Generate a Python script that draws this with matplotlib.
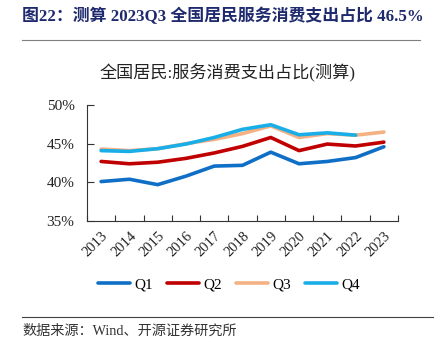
import matplotlib
matplotlib.use("Agg")
import matplotlib.pyplot as plt
from matplotlib.lines import Line2D

years = ["2013","2014","2015","2016","2017","2018","2019","2020","2021","2022","2023"]
q1 = [40.1, 40.4, 39.7, 40.8, 42.1, 42.2, 43.9, 42.4, 42.7, 43.2, 44.6]
q2 = [42.7, 42.4, 42.6, 43.1, 43.8, 44.65, 45.8, 44.1, 44.95, 44.7, 45.2]
q3 = [44.3, 44.1, 44.35, 45.0, 45.55, 46.3, 47.3, 45.8, 46.3, 46.1, 46.5]
q4 = [44.1, 44.0, 44.35, 44.95, 45.8, 46.85, 47.45, 46.15, 46.4, 46.1]
series = [("Q1", q1, "#0F6FC6"), ("Q2", q2, "#C00000"), ("Q3", q3, "#F4B183"), ("Q4", q4, "#1AAEE8")]

W, H = 444, 354
fig = plt.figure(figsize=(W/100, H/100), dpi=100)
serif = ["Liberation Serif", "Noto Sans CJK SC"]

def fx(px): return px / W
def fy(py): return 1 - py / H

# header
fig.text(fx(22), fy(16), "图22：测算 2023Q3 全国居民服务消费支出占比 46.5%", family=serif,
         fontsize=12.2, fontweight="bold", color="#1F2A6E", va="center", ha="left")
fig.add_artist(Line2D([fx(22), fx(420)], [fy(40), fy(40)], color="#7F7F7F", lw=0.8))
fig.add_artist(Line2D([fx(22), fx(433)], [fy(317), fy(317)], color="#404040", lw=0.8))
fig.text(fx(22), fy(331), "数据来源：Wind、开源证券研究所", family=serif, fontsize=10.2,
         color="#333333", va="center", ha="left")

ax = fig.add_axes([fx(87), fy(221), fx(398-87), (221-105)/H])
x = list(range(len(years)))
for name, vals, c in series:
    ax.plot(x[:len(vals)], vals, color=c, lw=2.3, label=name, solid_capstyle="round")

ax.set_xlim(-0.5, len(years)-0.5)
ax.set_ylim(35, 50)
ax.set_yticks([35, 40, 45, 50])
ax.set_yticklabels([f"{v}%" for v in [35, 40, 45, 50]], family=serif, fontsize=11, color="#222222")
ax.set_xticks([i - 0.5 for i in range(len(years)+1)], minor=False)
ax.set_xticklabels([])
ax.set_xticks(x, minor=True)
ax.set_xticklabels(years, minor=True, rotation=45, ha="right", va="top", rotation_mode="anchor",
                   family=serif, fontsize=10.5, color="#222222")
ax.tick_params(axis="x", which="minor", length=0, pad=6)
ax.tick_params(axis="x", which="major", length=4, direction="in", color="#333333")
ax.tick_params(axis="y", length=5, direction="in", color="#333333", pad=9)
for s in ["top", "right"]:
    ax.spines[s].set_visible(False)
for s in ["left", "bottom"]:
    ax.spines[s].set_color("#333333")
    ax.spines[s].set_linewidth(0.8)

fig.text(fx(228), fy(73), "全国居民:服务消费支出占比(测算)", family=serif, fontsize=12.3,
         color="#222222", ha="center", va="center")

handles, labels = ax.get_legend_handles_labels()
for h in handles:
    h.set_linewidth(2.6)
leg = fig.legend(handles, labels, loc="center", bbox_to_anchor=(fx(229), fy(285)), ncol=4,
                 frameon=False, prop={"family": serif, "size": 11}, handlelength=2.1,
                 columnspacing=0.9, handletextpad=0.3)

fig.savefig("out.png", dpi=100)
